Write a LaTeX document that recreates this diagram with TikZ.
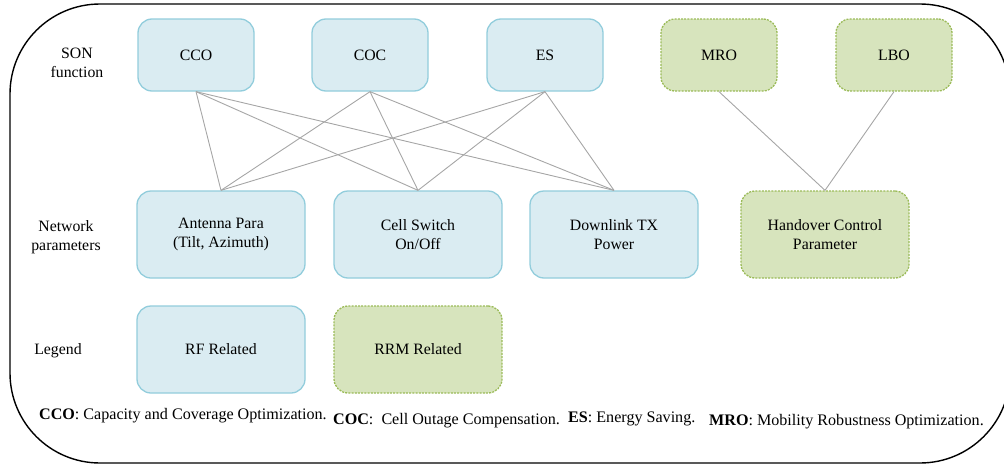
\documentclass[tikz,border=0pt]{standalone}
\usepackage{fontspec}
\setmainfont{Liberation Serif}
\newfontfamily\tnr{Liberation Serif}
\definecolor{bluefill}{HTML}{DAECF2}
\definecolor{blueline}{HTML}{92CDDC}
\definecolor{greenfill}{HTML}{D7E4BD}
\definecolor{greenline}{HTML}{9BBB59}
\definecolor{linkgray}{HTML}{A6A6A6}
\begin{document}
\begin{tikzpicture}[x=1pt,y=-1pt,
  every node/.style={font=\tnr\fontsize{15.8}{18.5}\selectfont, align=center},
  bluebox/.style={draw=blueline, fill=bluefill, line width=1.3pt, rounded corners=14pt, inner sep=0pt},
  greenbox/.style={draw=greenline, fill=greenfill, line width=1.3pt, dash pattern=on 2pt off 1.2pt, rounded corners=14pt, inner sep=0pt},
  sonbox/.style={minimum width=116pt, minimum height=72pt},
  parbox/.style={minimum width=168pt, minimum height=87pt},
  link/.style={draw=linkgray, line width=0.9pt},
  rowlabel/.style={inner sep=0pt},
  foot/.style={anchor=base west, inner sep=0pt, font=\tnr\fontsize{16.1}{18}\selectfont}
]
\useasboundingbox (0,0) rectangle (1004,466);
\draw[line width=1.4pt, rounded corners=90pt] (10,4) rectangle (1010,463);

% row labels
\node[rowlabel] (lson) at (77,63) {SON\\function};
\node[rowlabel] (lnet) at (66,237) {Network\\parameters};
\node[rowlabel] (lleg) at (58,351) {Legend};

% SON functions
\node[bluebox,sonbox] (cco) at (196,55) {CCO};
\node[bluebox,sonbox] (coc) at (370,55) {COC};
\node[bluebox,sonbox] (es) at (545,55) {ES};
\node[greenbox,sonbox] (mro) at (719,55) {MRO};
\node[greenbox,sonbox] (lbo) at (894,55) {LBO};

% network parameters
\node[bluebox,parbox] (ant) at (221,234.5) {Antenna Para\\(Tilt, Azimuth)};
\node[bluebox,parbox] (cell) at (418,234.5) {Cell Switch\\On/Off};
\node[bluebox,parbox] (dl) at (614,234.5) {Downlink TX\\Power};
\node[greenbox,parbox] (ho) at (825,234.5) {Handover Control\\Parameter};

% legend
\node[bluebox,parbox] (rf) at (221,349.5) {RF Related};
\node[greenbox,parbox] (rrm) at (418,349.5) {RRM Related};

% links
\foreach \s in {cco,coc,es}{
  \foreach \t in {ant,cell,dl}{
    \draw[link] (\s.south) -- (\t.north);
  }
}
\draw[link] (mro.south) -- (ho.north);
\draw[link] (lbo.south) -- (ho.north);

% footer
\node[foot] (f1) at (39,419) {\textbf{CCO}: Capacity and Coverage Optimization.};
\node[foot] (f2) at (333,424) {\textbf{COC}:~ Cell Outage Compensation.};
\node[foot] (f3) at (568,422) {\textbf{ES}: Energy Saving.};
\node[foot] (f4) at (709,425) {\textbf{MRO}: Mobility Robustness Optimization.};
\end{tikzpicture}
\end{document}
